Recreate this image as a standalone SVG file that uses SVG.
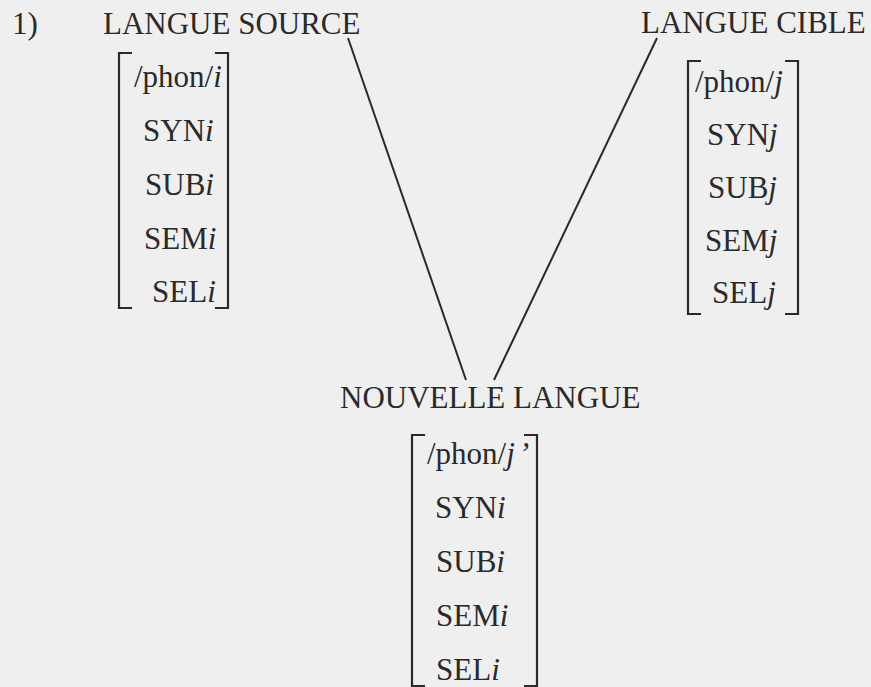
<svg xmlns="http://www.w3.org/2000/svg" width="871" height="687" viewBox="0 0 871 687">
<style>
text{font-family:"Liberation Serif","Times New Roman",serif;font-size:31px;fill:#2a2a2a}
.it{font-style:italic}
.br{fill:none;stroke:#2a2a2a;stroke-width:2.2}
.ln{stroke:#2a2a2a;stroke-width:2}
</style>
<rect width="871" height="687" fill="#efefef"/>
<text x="12" y="34">1)</text>
<g id="source">
<text x="103" y="34">LANGUE SOURCE</text>
<path class="br" d="M132,53 H119 V308 H132 M215,53 H228 V308 H215"/>
<text x="134" y="87">/phon/<tspan class="it">i</tspan></text>
<text x="143" y="141">SYN<tspan class="it">i</tspan></text>
<text x="145" y="195">SUB<tspan class="it">i</tspan></text>
<text x="144" y="249">SEM<tspan class="it">i</tspan></text>
<text x="152" y="302">SEL<tspan class="it">i</tspan></text>
</g>
<g id="cible">
<text x="641" y="33">LANGUE CIBLE</text>
<path class="br" d="M701,61 H688 V314 H701 M785,61 H798 V314 H785"/>
<text x="695" y="92">/phon/<tspan class="it">j</tspan></text>
<text x="707" y="145">SYN<tspan class="it">j</tspan></text>
<text x="708" y="198">SUB<tspan class="it">j</tspan></text>
<text x="705" y="251">SEM<tspan class="it">j</tspan></text>
<text x="712" y="303">SEL<tspan class="it">j</tspan></text>
</g>
<g id="nouvelle">
<text x="340" y="408">NOUVELLE LANGUE</text>
<path class="br" d="M425,435 H412 V686 H425 M524,435 H537 V686 H524"/>
<text x="427" y="464">/phon/<tspan class="it">j</tspan><tspan class="it" dx="4">’</tspan></text>
<text x="435" y="518">SYN<tspan class="it">i</tspan></text>
<text x="436" y="572">SUB<tspan class="it">i</tspan></text>
<text x="436" y="626">SEM<tspan class="it">i</tspan></text>
<text x="436" y="680">SEL<tspan class="it">i</tspan></text>
</g>
<g id="connectors">
<line class="ln" x1="348" y1="38" x2="466" y2="380"/>
<line class="ln" x1="657" y1="38" x2="494" y2="380"/>
</g>
</svg>
